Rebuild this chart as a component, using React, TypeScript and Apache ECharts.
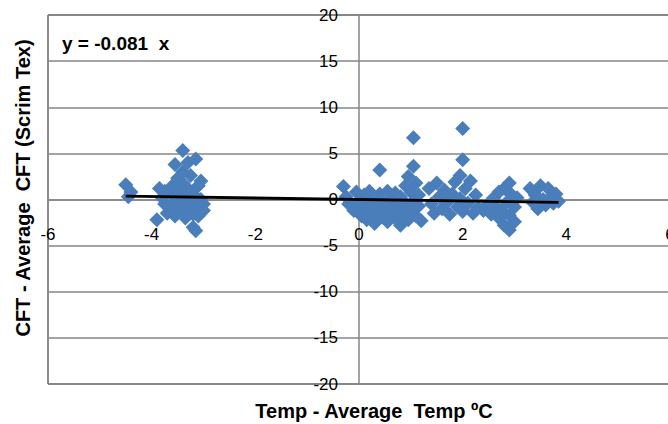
import React, { useEffect, useRef } from "react";
import * as echarts from "echarts";

const xTicks = { min: -6, max: 6, interval: 2 };
const yTicks = { min: -20, max: 20, interval: 5 };

const tempDiff: number[] = [
  -4.5, -4.4, -4.45,
  -3.9, -3.85, -3.8, -3.75, -3.7, -3.7, -3.65, -3.6, -3.6, -3.55, -3.55, -3.5, -3.5,
  -3.45, -3.45, -3.4, -3.4, -3.4, -3.4, -3.35, -3.35, -3.3, -3.3, -3.3, -3.25, -3.25,
  -3.2, -3.2, -3.15, -3.15, -3.15, -3.1, -3.1, -3.05, -3.05, -3.0, -3.0, -3.2, -3.6, -3.75,
  -0.3, -0.25, -0.2, -0.1, -0.05, 0.0, 0.05, 0.1, 0.1, 0.15, 0.2, 0.2, 0.25, 0.3, 0.3, 0.35,
  0.4, 0.4, 0.45, 0.45, 0.5, 0.55, 0.55, 0.6, 0.6, 0.65, 0.7, 0.7, 0.75, 0.8, 0.8, 0.85,
  0.9, 0.9, 0.95, 0.95, 1.0, 1.0, 1.05, 1.05, 1.05, 1.1, 1.1, 1.15, 1.15, 1.2,
  1.35, 1.4, 1.45, 1.5, 1.55, 1.6, 1.65, 1.7, 1.75, 1.8, 1.85, 1.9, 1.95, 1.95, 2.0, 2.0,
  2.0, 2.05, 2.1, 2.15, 2.2, 2.25, 2.3,
  2.4, 2.5, 2.55, 2.6, 2.65, 2.7, 2.7, 2.75, 2.8, 2.8, 2.85, 2.9, 2.9, 2.9, 2.95, 3.0, 3.0, 3.05,
  3.3, 3.35, 3.4, 3.45, 3.5, 3.55, 3.6, 3.65, 3.7, 3.75, 3.8, 3.85,
];

const cftDiff: number[] = [
  1.6, 0.8, 0.3,
  -2.2, 1.2, 0.2, -0.5, -1.5, 0.8, -0.8, 0.5, 1.5, -1.8, 3.8, -0.3, 2.3,
  0.9, -1.2, 5.3, 3.0, 1.8, -0.6, 0.2, -2.0, 4.0, 1.2, -1.0, 2.6, -0.2,
  -1.6, 0.6, -3.4, 4.4, -0.8, 1.5, -1.8, 2.0, 0.0, -0.5, -1.2, -3.0, -1.0, 0.9,
  1.4, 0.3, -0.5, -1.2, 0.8, -0.3, -1.8, 0.5, -0.9, -2.2, 0.9, -0.4, -1.5, 0.2, -2.6, -1.0,
  3.2, 0.6, -0.3, -1.9, -0.8, 0.9, -2.4, -1.3, 0.1, -0.5, -2.0, 0.7, -1.0, -2.8, 0.3, -1.6,
  1.5, -0.4, 2.5, -2.2, 0.8, -1.2, 6.7, 3.6, -0.2, 1.8, -1.8, -0.7, 0.5, -2.3,
  1.2, -0.5, -1.5, 1.8, 0.3, -1.0, 1.0, -0.3, -1.6, 0.6, 1.9, -0.8, 2.6, 0.1, 7.7, 4.3,
  -1.3, 1.2, -0.4, 2.0, -1.5, 0.5, -0.9,
  -1.2, -0.4, -1.6, 0.2, -0.8, -2.0, 0.8, -1.2, -2.8, 1.2, -0.3, -3.3, 1.8, -1.7, 0.5, -2.4, -0.8, 0.2,
  1.2, -0.3, 0.5, -1.0, 1.5, 0.0, -0.6, 1.2, 0.3, -0.4, 0.6, -0.2,
];

const slope = -0.081;
const equationText = "y = -0.081  x";
const xTitle = "Temp - Average  Temp ºC";
const yTitle = "CFT - Average  CFT (Scrim Tex)";

const FONT = "'Liberation Sans', Arial, sans-serif";

const GRID_W = 622;
const GRID_H = 369;

export default function App() {
  const ref = useRef<HTMLDivElement>(null);
  useEffect(() => {
    document.body.style.margin = "0";
    if (!ref.current) return;
    const chart = echarts.init(ref.current, null, { renderer: "svg" });
    const points = tempDiff.map((x, i) => [x, cftDiff[i]]);
    const xMin = Math.min(...tempDiff);
    const xMax = Math.max(...tempDiff);
    chart.setOption({
      animation: false,
      backgroundColor: "#ffffff",
      textStyle: { fontFamily: FONT },
      grid: {
        left: 48,
        top: 15,
        width: GRID_W,
        height: GRID_H,
        show: true,
        borderColor: "#1a1a1a",
        borderWidth: 1,
        containLabel: false,
        outerBoundsMode: "none",
      },
      xAxis: {
        type: "value",
        min: xTicks.min,
        max: xTicks.max,
        interval: xTicks.interval,
        position: "bottom",
        offset: -GRID_H / 2,
        axisLine: { onZero: false, lineStyle: { color: "#868686", width: 1.5 } },
        axisTick: { show: false },
        splitLine: { show: false },
        axisLabel: { margin: 26, fontSize: 17, color: "#000", fontFamily: FONT, showMinLabel: true, showMaxLabel: true },
      },
      yAxis: {
        type: "value",
        min: yTicks.min,
        max: yTicks.max,
        interval: yTicks.interval,
        position: "left",
        offset: -GRID_W / 2,
        axisLine: { onZero: false, lineStyle: { color: "#868686", width: 1.5 } },
        axisTick: { show: false },
        splitLine: { show: true, lineStyle: { color: "#868686", width: 1.5 } },
        axisLabel: { margin: 21, fontSize: 17, color: "#000", fontFamily: FONT, showMinLabel: true, showMaxLabel: true },
      },
      series: [
        {
          type: "scatter",
          data: points,
          symbol: "diamond",
          symbolSize: 15,
          itemStyle: { color: "#4a7ebb", opacity: 1 },
          z: 2,
        },
        {
          type: "line",
          data: [
            [xMin, slope * xMin],
            [xMax, slope * xMax],
          ],
          symbol: "none",
          lineStyle: { color: "#000", width: 2.8 },
          z: 3,
        },
      ],
      graphic: [
        {
          type: "text",
          left: 62,
          top: 34,
          style: { text: equationText, fontSize: 19, fontWeight: "bold", fill: "#000", fontFamily: FONT },
        },
        {
          type: "text",
          x: 374,
          y: 411,
          style: {
            text: xTitle,
            fontSize: 20,
            fontWeight: "bold",
            fill: "#000",
            fontFamily: FONT,
            align: "center",
            verticalAlign: "middle",
          },
        },
        {
          type: "text",
          x: 23,
          y: 188,
          rotation: Math.PI / 2,
          style: {
            text: yTitle,
            fontSize: 20,
            fontWeight: "bold",
            fill: "#000",
            fontFamily: FONT,
            align: "center",
            verticalAlign: "middle",
          },
        },
      ],
    });
    return () => chart.dispose();
  }, []);
  return <div ref={ref} style={{ position: "fixed", left: 0, top: 0, width: 668, height: 424 }} />;
}
